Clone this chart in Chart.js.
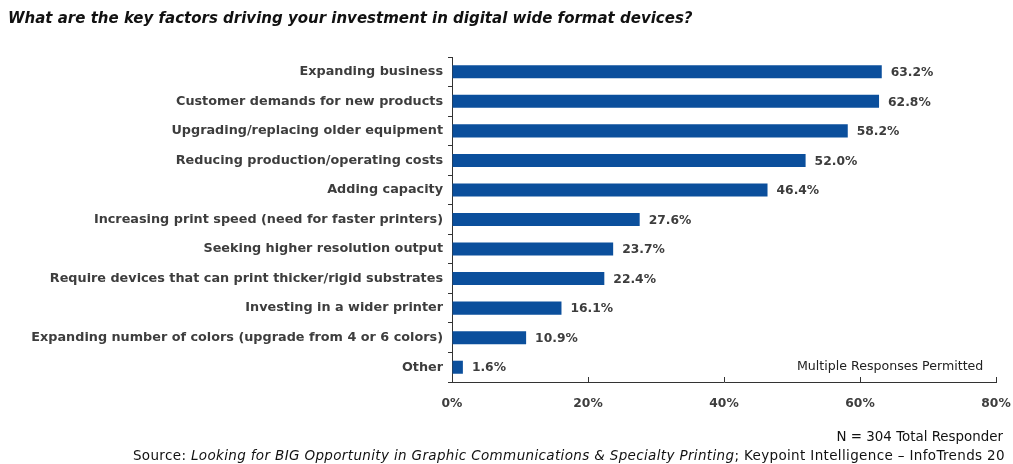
<!DOCTYPE html>
<html>
<head>
<meta charset="utf-8">
<script src="https://cdn.jsdelivr.net/npm/chart.js@4/dist/chart.umd.min.js"></script>
<style>
  html, body { margin: 0; padding: 0; background: #fff; }
  #wrap { position: relative; width: 1013px; height: 464px; overflow: hidden; font-family: "DejaVu Sans", sans-serif; }
  #chart { position: absolute; left: 0; top: 0; }
  .txt { position: absolute; white-space: nowrap; line-height: 1; }
  #title { left: 8px; top: 11px; font-size: 15px; font-weight: 700; font-style: italic; color: #111; }
  #note { left: 797px; top: 360px; font-size: 12.6px; color: #222; }
  #nresp { right: 10px; top: 430px; font-size: 13.4px; color: #111; }
  #source { right: 8px; top: 449px; font-size: 13.5px; color: #111; letter-spacing: 0.35px; }
</style>
</head>
<body>
<div id="wrap">
  <canvas id="chart" width="1013" height="464"></canvas>
  <div class="txt" id="title">What are the key factors driving your investment in digital wide format devices?</div>
  <div class="txt" id="note">Multiple Responses Permitted</div>
  <div class="txt" id="nresp">N = 304 Total Responder</div>
  <div class="txt" id="source">Source: <i>Looking for BIG Opportunity in Graphic Communications &amp; Specialty Printing</i>; Keypoint Intelligence – InfoTrends 20</div>
</div>
<script>
// Survey answers, top to bottom
const factors = [
  "Expanding business",
  "Customer demands for new products",
  "Upgrading/replacing older equipment",
  "Reducing production/operating costs",
  "Adding capacity",
  "Increasing print speed (need for faster printers)",
  "Seeking higher resolution output",
  "Require devices that can print thicker/rigid substrates",
  "Investing in a wider printer",
  "Expanding number of colors (upgrade from 4 or 6 colors)",
  "Other"
];
// Share of respondents (%)
const shares = [63.2, 62.8, 58.2, 52.0, 46.4, 27.6, 23.7, 22.4, 16.1, 10.9, 1.6];
// Percentage axis ticks
const axisTicks = [0, 20, 40, 60, 80];

const BAR = "#0b4f9c";
const INK = "#3d3d3d";
const AXIS = "#333";
const FONT = "'DejaVu Sans', sans-serif";

// Value labels at the end of each bar
const valueLabels = {
  id: "valueLabels",
  afterDatasetsDraw(chart) {
    const ctx = chart.ctx;
    const meta = chart.getDatasetMeta(0);
    ctx.save();
    ctx.font = "bold 12.3px " + FONT;
    ctx.fillStyle = INK;
    ctx.textAlign = "left";
    ctx.textBaseline = "middle";
    meta.data.forEach((bar, i) => {
      ctx.fillText(shares[i].toFixed(1) + "%", bar.x + 9, bar.y + 1);
    });
    ctx.restore();
  }
};

// Short inward tick marks on the percentage axis
const innerTicks = {
  id: "innerTicks",
  afterDraw(chart) {
    const x = chart.scales.x;
    const ctx = chart.ctx;
    const bottom = chart.chartArea.bottom;
    ctx.save();
    ctx.strokeStyle = AXIS;
    ctx.lineWidth = 1;
    x.ticks.forEach(t => {
      const px = Math.round(x.getPixelForValue(t.value)) + 0.5;
      ctx.beginPath();
      ctx.moveTo(px, bottom);
      ctx.lineTo(px, bottom - 5);
      ctx.stroke();
    });
    ctx.restore();
  }
};

new Chart(document.getElementById("chart"), {
  type: "bar",
  data: {
    labels: factors,
    datasets: [{
      data: shares,
      backgroundColor: BAR,
      borderWidth: 0,
      barPercentage: 0.9,
      categoryPercentage: 0.49
    }]
  },
  options: {
    indexAxis: "y",
    responsive: false,
    animation: false,
    devicePixelRatio: 1,
    layout: { padding: { top: 57, right: 17, bottom: 52, left: 0 } },
    plugins: { legend: { display: false }, tooltip: { enabled: false } },
    scales: {
      x: {
        min: 0,
        max: 80,
        afterFit(s) { s.height = 30; s.paddingLeft = 0; s.paddingRight = 0; },
        afterBuildTicks(s) { s.ticks = axisTicks.map(v => ({ value: v })); },
        grid: { display: true, drawOnChartArea: false, drawTicks: false },
        border: { display: true, color: AXIS, width: 1 },
        ticks: {
          padding: 14,
          color: INK,
          font: { family: FONT, size: 12.3, weight: "bold" },
          callback: v => v + "%"
        }
      },
      y: {
        afterFit(s) { s.width = 452; },
        grid: { display: true, drawOnChartArea: false, drawTicks: true, tickLength: 4, color: AXIS, offset: true },
        border: { display: true, color: AXIS, width: 1 },
        ticks: {
          padding: 5,
          color: INK,
          font: { family: FONT, size: 12.8, weight: "bold" }
        }
      }
    }
  },
  plugins: [valueLabels, innerTicks]
});
</script>
</body>
</html>
